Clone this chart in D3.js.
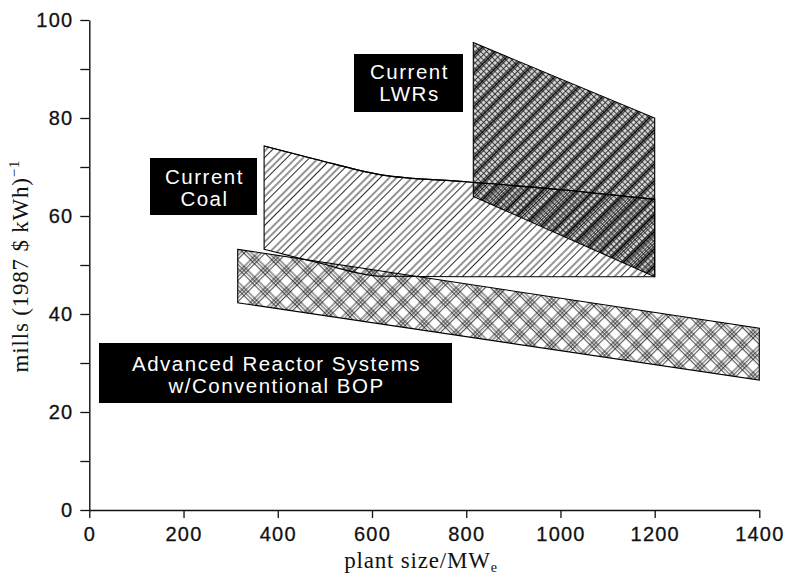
<!DOCTYPE html>
<html><head><meta charset="utf-8">
<script src="https://cdn.jsdelivr.net/npm/d3@7"></script>
<style>body{margin:0;background:#fff}</style>
</head><body><svg id="c" width="788" height="578"></svg>
<script>
const xTicks = [0, 200, 400, 600, 800, 1000, 1200, 1400];
const yTicks = [0, 20, 40, 60, 80, 100];
const yMinorTicks = [10, 30, 50, 70, 90];

const advX = [315, 1400];
const advTop = [53.2, 37.1];
const advBottom = [42.3, 26.5];

const coalX = [371, 480, 620, 800, 1010, 1200];
const coalTop = [74.3, 71.6, 68.4, 67.0, 65.3, 63.4];
const coalBottom = [53.2, 50.6, 47.7, 47.6, 47.6, 47.6];

const lwrX = [815, 1200];
const lwrTop = [95.4, 80.0];
const lwrBottom = [64.0, 47.6];

const lwrLabel = ["Current", "LWRs"];
const coalLabel = ["Current", "Coal"];
const advLabel = ["Advanced Reactor Systems", "w/Conventional BOP"];

const svg = d3.select("#c");
const x = d3.scaleLinear().domain([0, 1200, 1400]).range([89.3, 654.7, 759.3]);
const y = d3.scaleLinear().domain([0, 100]).range([510, 20]);

const defs = svg.append("defs");
// coal: single diagonal hatch "/" (rotate(45) turns vertical lines into "/")
const pc = defs.append("pattern").attr("id", "coal").attr("patternUnits", "userSpaceOnUse")
  .attr("width", 16).attr("height", 16).attr("patternTransform", "rotate(45)");
[1, 6, 10.5].forEach(v => pc.append("line").attr("x1", v).attr("x2", v).attr("y1", 0).attr("y2", 16)
  .attr("stroke", "#111").attr("stroke-width", 0.9));
// advanced: plaid cross hatch
const pa = defs.append("pattern").attr("id", "adv").attr("patternUnits", "userSpaceOnUse")
  .attr("width", 15).attr("height", 15).attr("patternTransform", "rotate(45)");
[1, 3.8, 6.6].forEach(v => {
  pa.append("line").attr("x1", v).attr("x2", v).attr("y1", 0).attr("y2", 15).attr("stroke", "#111").attr("stroke-width", 0.8);
  pa.append("line").attr("y1", v).attr("y2", v).attr("x1", 0).attr("x2", 15).attr("stroke", "#111").attr("stroke-width", 0.8);
});
// LWR: dense grid + dark "/" diagonals
const pl = defs.append("pattern").attr("id", "lwr").attr("patternUnits", "userSpaceOnUse")
  .attr("width", 12).attr("height", 12).attr("patternTransform", "rotate(45)");
pl.append("rect").attr("width", 12).attr("height", 12).attr("fill", "rgba(0,0,0,0.18)");
[0.5, 4.5, 8.5].forEach(v => {
  pl.append("line").attr("x1", v).attr("x2", v).attr("y1", 0).attr("y2", 12).attr("stroke", "#222").attr("stroke-width", 0.8);
  pl.append("line").attr("y1", v).attr("y2", v).attr("x1", 0).attr("x2", 12).attr("stroke", "#222").attr("stroke-width", 0.8);
});
pl.append("line").attr("x1", 2.5).attr("x2", 2.5).attr("y1", 0).attr("y2", 12).attr("stroke", "#000").attr("stroke-width", 1.8);

function band(xs, tops, bots) {
  return xs.map((v, i) => ({x: v, t: tops[i], b: bots[i]}));
}
const area = d3.area().x(d => x(d.x)).y0(d => y(d.b)).y1(d => y(d.t)).curve(d3.curveMonotoneX);

const bands = [
  {id: "adv", d: band(advX, advTop, advBottom)},
  {id: "coal", d: band(coalX, coalTop, coalBottom)},
  {id: "lwr", d: band(lwrX, lwrTop, lwrBottom)}
];
bands.forEach(b => {
  svg.append("path").datum(b.d).attr("d", area).attr("fill", `url(#${b.id})`).attr("stroke", "none");
});
bands.forEach(b => {
  svg.append("path").datum(b.d).attr("d", area).attr("fill", "none").attr("stroke", "#000").attr("stroke-width", 1.1);
});
svg.append("path").datum(band(coalX, coalTop, coalBottom))
  .attr("d", d3.line().x(d => x(d.x)).y(d => y(d.t)).curve(d3.curveMonotoneX))
  .attr("fill", "none").attr("stroke", "#000").attr("stroke-width", 1.1);

// axes
const tickFont = "'Liberation Sans', Arial, Helvetica, sans-serif";
const ya = svg.append("g").attr("transform", `translate(${x(0)},0)`)
  .call(d3.axisLeft(y).tickValues(yTicks).tickSize(9).tickPadding(7).tickSizeOuter(0));
svg.append("g").attr("transform", `translate(${x(0)},0)`)
  .call(d3.axisLeft(y).tickValues(yMinorTicks).tickFormat("").tickSize(9).tickSizeOuter(0))
  .call(g => g.select(".domain").remove())
  .call(g => g.selectAll("line").attr("stroke", "#111").attr("stroke-width", 1.3));
const xa = svg.append("g").attr("transform", `translate(0,${y(0)})`)
  .call(d3.axisBottom(x).tickValues(xTicks).tickFormat(d3.format("d")).tickSize(8).tickPadding(9).tickSizeOuter(0));
[ya, xa].forEach(g => {
  g.selectAll("text").attr("font-family", tickFont).attr("font-size", 20).attr("fill", "#111").attr("letter-spacing", 1.2)
    .attr("stroke", "#111").attr("stroke-width", 0.3);
  g.selectAll("line").attr("stroke", "#111").attr("stroke-width", 1.3);
  g.select(".domain").attr("stroke", "#111").attr("stroke-width", 1.4);
});

// axis titles
const serif = "'Liberation Serif', 'Times New Roman', serif";
const yt = svg.append("text").attr("transform", "translate(28,266) rotate(-90)")
  .attr("text-anchor", "middle").attr("font-family", serif).attr("font-size", 23).attr("fill", "#111")
  .attr("letter-spacing", 0.8);
yt.append("tspan").text("mills (1987 $ kWh)");
yt.append("tspan").attr("dy", -9).attr("font-size", 15).text("\u22121");

const xt = svg.append("text").attr("x", 421).attr("y", 568)
  .attr("text-anchor", "middle").attr("font-family", serif).attr("font-size", 23).attr("fill", "#111")
  .attr("letter-spacing", 0.8);
xt.append("tspan").text("plant size/MW");
xt.append("tspan").attr("dy", 4).attr("font-size", 14).text("e");

// black label boxes
function labelBox(lines, x0, y0, x1, y1, baselines) {
  svg.append("rect").attr("x", x0).attr("y", y0).attr("width", x1 - x0).attr("height", y1 - y0).attr("fill", "#000");
  lines.forEach((t, i) => {
    svg.append("text").attr("x", (x0 + x1) / 2 + 1).attr("y", baselines[i])
      .attr("text-anchor", "middle").attr("font-family", tickFont).attr("font-size", 20.5)
      .attr("letter-spacing", 1.5).attr("fill", "#fff").text(t);
  });
}
labelBox(lwrLabel, 354, 54, 463, 112, [79, 101]);
labelBox(coalLabel, 150, 158, 257, 215, [183.5, 205.5]);
labelBox(advLabel, 99, 343, 452, 403, [370.5, 392.5]);
</script></body></html>
